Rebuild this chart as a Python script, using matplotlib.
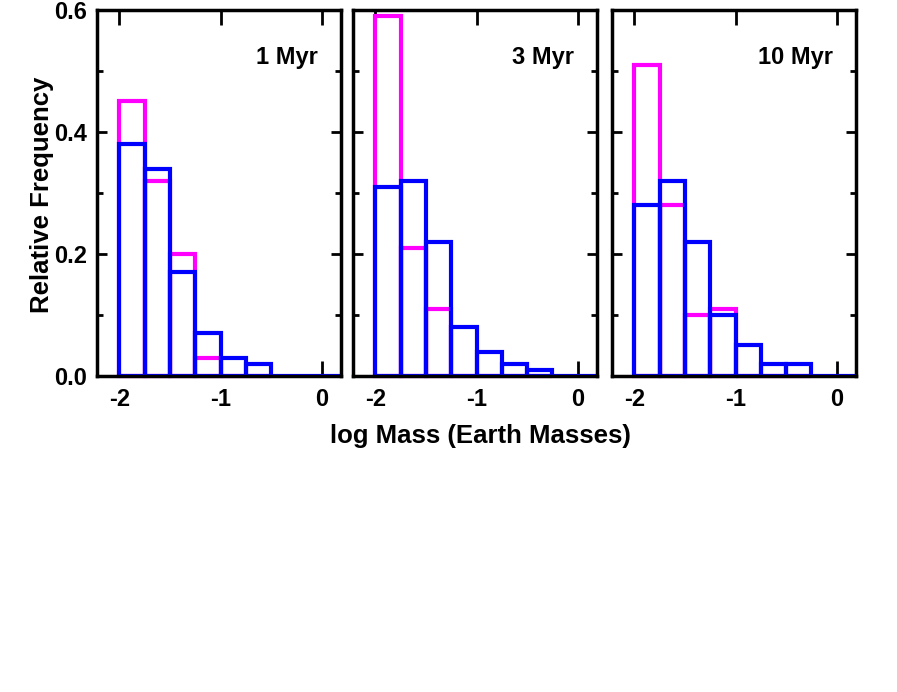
import matplotlib
matplotlib.use("Agg")
import matplotlib.pyplot as plt
import numpy as np

plt.rcParams["font.family"] = ["Liberation Sans", "DejaVu Sans"]
plt.rcParams["font.weight"] = "bold"

# bin edges in log mass (Earth masses), width 0.25
bin_left = np.arange(-2.0, 0.25, 0.25)
bin_width = 0.25

panel_labels = ["1 Myr", "3 Myr", "10 Myr"]

# relative frequency per bin (magenta / blue)
magenta = [
    [0.45, 0.32, 0.20, 0.03, 0.00, 0.00],
    [0.59, 0.21, 0.11, 0.00, 0.00, 0.00, 0.00],
    [0.51, 0.28, 0.10, 0.11, 0.00, 0.00, 0.00],
]
blue = [
    [0.38, 0.34, 0.17, 0.07, 0.03, 0.02, 0.00, 0.00, 0.00],
    [0.31, 0.32, 0.22, 0.08, 0.04, 0.02, 0.01, 0.00, 0.00],
    [0.28, 0.32, 0.22, 0.10, 0.05, 0.02, 0.02, 0.00, 0.00],
]

W, H = 897, 692
fig = plt.figure(figsize=(W / 100, H / 100), dpi=100)

lefts = [97, 353, 612]
top, bottom = 10, 376
width = 244

for i, lab in enumerate(panel_labels):
    ax = fig.add_axes([lefts[i] / W, 1 - bottom / H, width / W, (bottom - top) / H])
    m = magenta[i]
    b = blue[i]
    ax.bar(bin_left[:len(m)], m, width=bin_width, align="edge", fill=False,
           edgecolor="#ff00ff", linewidth=3.0, clip_on=False, zorder=2)
    ax.bar(bin_left[:len(b)], b, width=bin_width, align="edge", fill=False,
           edgecolor="#0000ff", linewidth=3.0, zorder=3)

    ax.set_xlim(-2.22, 0.19)
    ax.set_ylim(0, 0.6)
    ax.set_xticks([-2, -1, 0])
    ax.set_xticklabels(["-2", "-1", "0"])
    ax.set_yticks([0.0, 0.2, 0.4, 0.6])
    ax.set_yticks([0.1, 0.3, 0.5], minor=True)
    ax.tick_params(axis="x", which="major", direction="in", top=True, bottom=True,
                   length=11, width=2, labelsize=17, pad=9)
    ax.tick_params(axis="y", which="major", direction="in", left=True, right=True,
                   length=7, width=2, labelsize=17, pad=7)
    ax.tick_params(axis="y", which="minor", direction="in", left=True, right=True,
                   length=4, width=2)
    if i == 0:
        ax.set_yticklabels(["0.0", "0.2", "0.4", "0.6"])
    else:
        ax.set_yticklabels([])
    for sp in ax.spines.values():
        sp.set_linewidth(2.5)
        sp.set_zorder(4)
    ax.text(0.905, 0.87, lab, transform=ax.transAxes, ha="right", va="center",
            fontsize=17, fontweight="bold")

fig.text(42 / W, 1 - 195 / H, "Relative Frequency", rotation=90,
         ha="center", va="center", fontsize=18.5, fontweight="bold")
fig.text(480 / W, 1 - 436 / H, "log Mass (Earth Masses)",
         ha="center", va="center", fontsize=18.5, fontweight="bold")

fig.savefig("out.png", dpi=100)
